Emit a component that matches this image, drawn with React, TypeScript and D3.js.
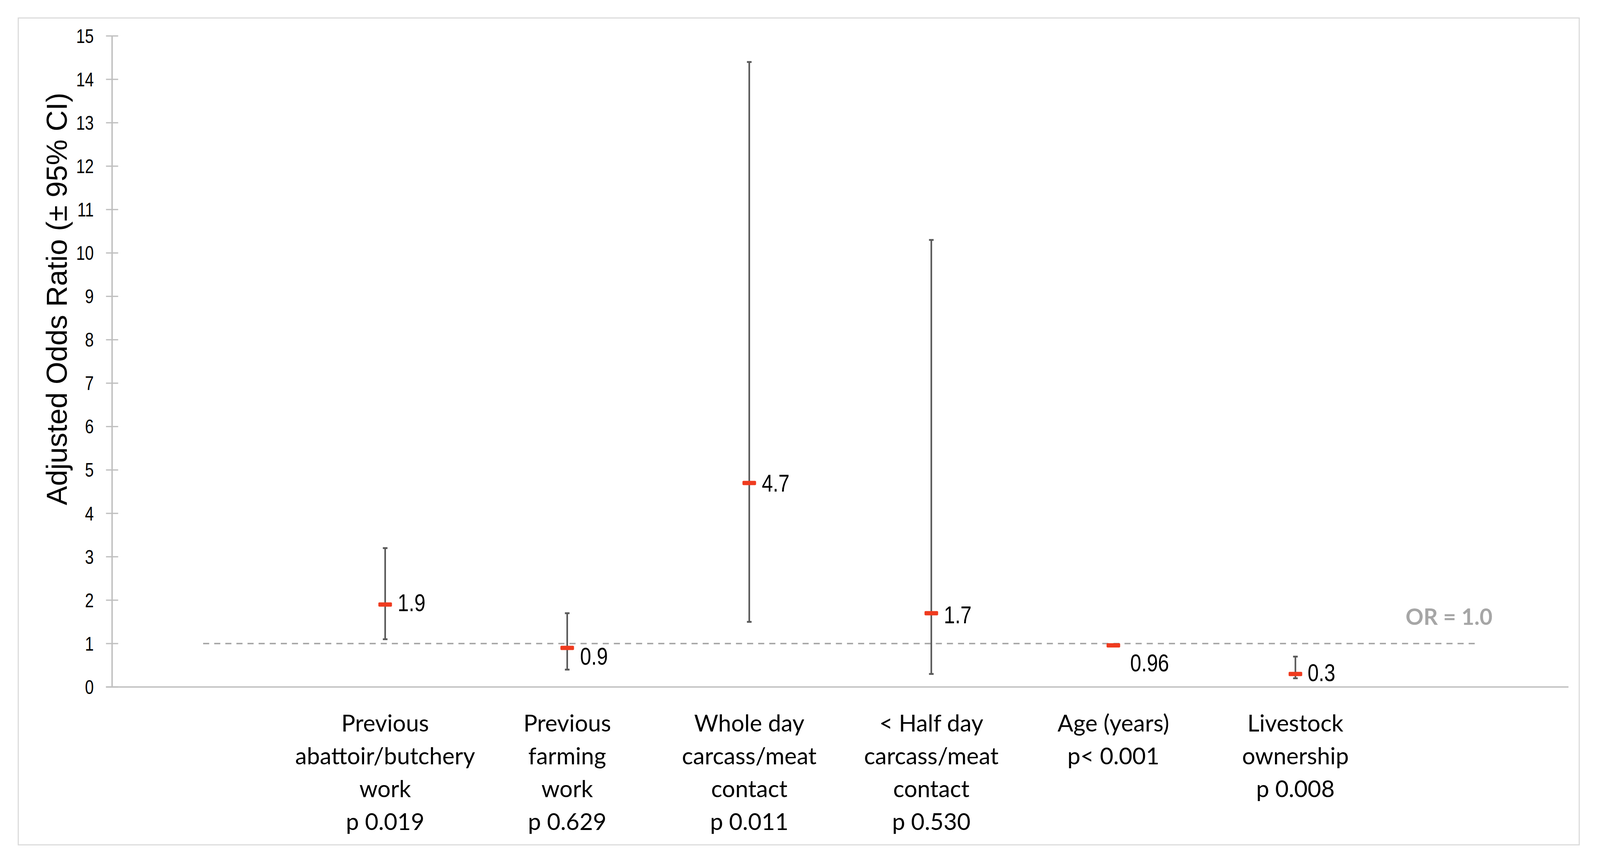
import React, { useEffect, useRef } from 'react';
import * as d3 from 'd3';

// categories, with their p values on the last label line
const categoryLines: string[][] = [
  ['Previous', 'abattoir/butchery', 'work', 'p 0.019'],
  ['Previous', 'farming', 'work', 'p 0.629'],
  ['Whole day', 'carcass/meat', 'contact', 'p 0.011'],
  ['< Half day', 'carcass/meat', 'contact', 'p 0.530'],
  ['Age (years)', 'p< 0.001'],
  ['Livestock', 'ownership', 'p 0.008'],
];
const oddsRatio = [1.9, 0.9, 4.7, 1.7, 0.96, 0.3];
const ciLower = [1.1, 0.4, 1.5, 0.3, 0.94, 0.2];
const ciUpper = [3.2, 1.7, 14.4, 10.3, 0.98, 0.7];
const valueLabels = ['1.9', '0.9', '4.7', '1.7', '0.96', '0.3'];
const yTicks = d3.range(0, 16);

// where each value label sits relative to its marker [dx, dy]
const labelOffset: [number, number][] = [
  [35, -6], [36, 22], [35, 0], [35, 4], [47, 48], [34, -5],
];

// design size; everything is laid out on it and scaled to the window
const W = 4468;
const H = 2211;
const arial = "'Liberation Sans', Arial, sans-serif";
const calibri = "Lato, Carlito, Calibri, 'Noto Sans', sans-serif";
// Arial Narrow isn't installed, so squeeze Arial horizontally
const NARROW = 0.82;

export default function App() {
  const svgRef = useRef<SVGSVGElement>(null);

  useEffect(() => {
    if (!svgRef.current) return;
    const vw = window.innerWidth || W;
    const vh = window.innerHeight || H;
    const sx = vw / W;
    const sy = vh / H;
    const s = Math.min(sx, sy);
    const X = (v: number) => v * sx;
    const Y = (v: number) => v * sy;
    const F = (v: number) => v * s;

    const svg = d3.select(svgRef.current)
      .attr('width', vw)
      .attr('height', vh);
    svg.selectAll('*').remove();

    const left = X(313);
    const right = X(4380);

    // 8 slots: an empty one each side, the categories in between
    const slots = ['_start', ...categoryLines.map((_, i) => `c${i}`), '_end'];
    const x = d3.scaleBand<string>().domain(slots).range([left, right]);
    const cx = (key: string) => (x(key) || 0) + x.bandwidth() / 2;
    const y = d3.scaleLinear().domain([0, 15]).range([Y(1758), Y(92)]);

    svg.append('rect')
      .attr('x', X(51)).attr('y', Y(46))
      .attr('width', X(4359)).attr('height', Y(2116))
      .attr('fill', '#fff')
      .attr('stroke', '#d9d9d9')
      .attr('stroke-width', F(3));

    // y axis
    const axisColor = '#bfbfbf';
    svg.append('line')
      .attr('x1', left).attr('x2', left)
      .attr('y1', y(15)).attr('y2', y(0))
      .attr('stroke', axisColor).attr('stroke-width', F(4));

    const tg = svg.append('g');
    tg.selectAll('line')
      .data(yTicks)
      .join('line')
      .attr('x1', left - F(17)).attr('x2', left + F(17))
      .attr('y1', d => y(d)).attr('y2', d => y(d))
      .attr('stroke', axisColor).attr('stroke-width', F(3.5));

    tg.selectAll('text')
      .data(yTicks)
      .join('text')
      .attr('transform', d => `translate(${left - F(51)},${y(d)}) scale(${NARROW},1)`)
      .attr('dy', '0.36em')
      .attr('text-anchor', 'end')
      .attr('font-family', arial)
      .attr('font-size', F(54))
      .attr('fill', '#000')
      .text(d => d);

    // x axis
    svg.append('line')
      .attr('x1', left - F(17)).attr('x2', right)
      .attr('y1', y(0)).attr('y2', y(0))
      .attr('stroke', axisColor).attr('stroke-width', F(4));

    svg.append('text')
      .attr('transform', `translate(${X(187)},${Y(765)}) rotate(-90)`)
      .attr('text-anchor', 'middle')
      .attr('font-family', arial)
      .attr('font-size', F(81))
      .attr('fill', '#000')
      .text('Adjusted Odds Ratio (± 95% CI)');

    // OR = 1 reference line
    svg.append('line')
      .attr('x1', cx('_start')).attr('x2', cx('_end'))
      .attr('y1', y(1)).attr('y2', y(1))
      .attr('stroke', '#a6a6a6')
      .attr('stroke-width', F(4))
      .attr('stroke-dasharray', `${F(17)} ${F(14)}`);

    svg.append('text')
      .attr('x', cx('_end') + X(42))
      .attr('y', y(1) - Y(48))
      .attr('text-anchor', 'end')
      .attr('font-family', calibri)
      .attr('font-weight', 'bold')
      .attr('font-size', F(62))
      .attr('fill', '#a6a6a6')
      .text('OR = 1.0');

    const idx = d3.range(oddsRatio.length);
    const key = (i: number) => `c${i}`;
    const barColor = '#595959';

    const eg = svg.append('g');
    eg.selectAll('line.whisker')
      .data(idx)
      .join('line')
      .attr('class', 'whisker')
      .attr('x1', i => cx(key(i))).attr('x2', i => cx(key(i)))
      .attr('y1', i => y(ciUpper[i])).attr('y2', i => y(ciLower[i]))
      .attr('stroke', barColor).attr('stroke-width', F(4.5));

    const caps = idx.flatMap(i => [ciLower[i], ciUpper[i]].map(v => ({ i, v })));
    eg.selectAll('line.cap')
      .data(caps)
      .join('line')
      .attr('class', 'cap')
      .attr('x1', d => cx(key(d.i)) - F(6.5)).attr('x2', d => cx(key(d.i)) + F(6.5))
      .attr('y1', d => y(d.v)).attr('y2', d => y(d.v))
      .attr('stroke', barColor).attr('stroke-width', F(5));

    svg.append('g')
      .selectAll('rect')
      .data(idx)
      .join('rect')
      .attr('x', i => cx(key(i)) - F(19))
      .attr('y', i => y(oddsRatio[i]) - F(6))
      .attr('width', F(38)).attr('height', F(12))
      .attr('rx', F(3))
      .attr('fill', '#ef3b1f');

    svg.append('g')
      .selectAll('text')
      .data(idx)
      .join('text')
      .attr('transform', i =>
        `translate(${cx(key(i)) + F(labelOffset[i][0])},${y(oddsRatio[i]) + F(labelOffset[i][1])}) scale(${NARROW},1)`)
      .attr('dy', '0.36em')
      .attr('font-family', arial)
      .attr('font-size', F(68))
      .attr('fill', '#000')
      .text(i => valueLabels[i]);

    // category labels
    const cg = svg.append('g');
    categoryLines.forEach((lines, i) => {
      const t = cg.append('text')
        .attr('text-anchor', 'middle')
        .attr('font-family', calibri)
        .attr('font-size', F(65))
        .attr('fill', '#000');
      lines.forEach((ln, j) => {
        t.append('tspan')
          .attr('x', cx(key(i)))
          .attr('y', Y(1872) + j * Y(84))
          .text(ln);
      });
    });
  }, []);

  return (
    <svg
      ref={svgRef}
      style={{ position: 'fixed', left: 0, top: 0, background: '#fff', display: 'block' }}
    />
  );
}
